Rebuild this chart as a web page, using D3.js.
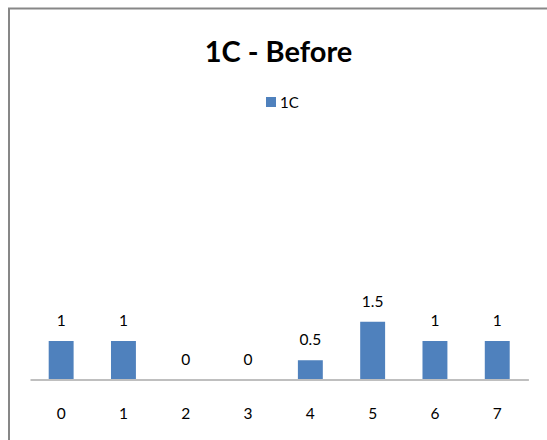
<!DOCTYPE html>
<html><head><meta charset="utf-8">
<script src="https://cdnjs.cloudflare.com/ajax/libs/d3/7.8.5/d3.min.js"></script>
<style>
html,body{margin:0;padding:0;background:#fff;}
svg{display:block;font-family:Lato,"Open Sans",sans-serif;}
</style></head>
<body>
<svg id="chart" width="547" height="440"></svg>
<script>
const categories = ["0","1","2","3","4","5","6","7"];
const values = [1, 1, 0, 0, 0.5, 1.5, 1, 1];
const seriesName = "1C";
const title = "1C - Before";

const svg = d3.select("#chart");
// chart frame
svg.append("rect").attr("x",9).attr("y",8.5).attr("width",600).attr("height",500)
  .attr("fill","#fff").attr("stroke","#878787").attr("stroke-width",2);

const x = d3.scaleBand().domain(categories).range([30, 528.4]).paddingInner(0.6).paddingOuter(0.3);
const y = d3.scaleLinear().domain([0, 2]).range([379.5, 302.5]);

// title
svg.append("text").attr("x",278.5).attr("y",62).attr("text-anchor","middle")
  .attr("font-size",29).attr("font-weight","bold").attr("fill","#000").text(title);

// legend
svg.append("rect").attr("x",266).attr("y",97).attr("width",10).attr("height",10).attr("fill","#4f81bd");
svg.append("text").attr("x",280).attr("y",108).attr("font-size",15).attr("fill","#000").text(seriesName);

// bars
svg.selectAll("rect.bar").data(values).join("rect").attr("class","bar")
  .attr("x",(d,i)=>x(categories[i])).attr("width",x.bandwidth())
  .attr("y",d=>y(d)).attr("height",d=>y(0)-y(d)).attr("fill","#4f81bd");

// axis
const axis = svg.append("g").attr("transform",`translate(0,${y(0)})`)
  .call(d3.axisBottom(x).tickSize(0).tickPadding(0));
axis.select(".domain").attr("stroke","#bfbfbf").attr("stroke-width",2);
axis.selectAll("text").attr("font-family","Lato,'Open Sans',sans-serif").attr("font-size",15.5)
  .attr("fill","#000").attr("dy",null).attr("y",39);

// data labels
svg.selectAll("text.lbl").data(values).join("text").attr("class","lbl")
  .attr("x",(d,i)=>x(categories[i])+x.bandwidth()/2).attr("y",d=>y(d)-15)
  .attr("text-anchor","middle").attr("font-size",15.5).attr("fill","#000")
  .text(d=>d3.format("")(d));
</script>
</body></html>
